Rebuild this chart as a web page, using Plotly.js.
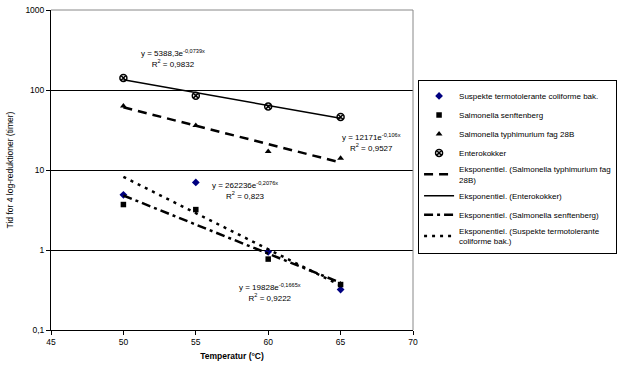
<!DOCTYPE html>
<html><head><meta charset="utf-8">
<script src="https://cdn.plot.ly/plotly-3.0.1.min.js"></script>
<style>body{margin:0;background:#fff}#c{width:620px;height:370px}</style>
</head><body><div id="c"></div>
<script>
const temps = [50, 55, 60, 65];
const suspekte = [4.9, 7.0, 0.95, 0.32];
const senftenberg = [3.7, 3.2, 0.77, 0.37];
const typhimurium = [63, 36, 17, 14];
const enterokokker = [141, 85, 62, 46];
const trendX = [50, 65];
const trendTyph = [60.8, 12.4];
const trendEntero = [134, 44.3];
const trendSenft = [4.8, 0.39];
const trendSusp = [8.2, 0.36];
const yTickVals = [0.1, 1, 10, 100, 1000];
const yTickText = ['0,1', '1', '10', '100', '1000'];
const names = ['Suspekte termotolerante coliforme bak.', 'Salmonella senftenberg', 'Salmonella typhimurium fag 28B', 'Enterokokker',
  'Eksponentiel. (Salmonella typhimurium fag<br>28B)', 'Eksponentiel. (Enterokokker)', 'Eksponentiel. (Salmonella senftenberg)', 'Eksponentiel. (Suspekte termotolerante<br>coliforme bak.)'];
const eqs = [
  {x: 53.43, y: 2.39, t: 'y = 5388,3e<sup>-0,0739x</sup><br>R<sup>2</sup> = 0,9832'},
  {x: 67.1, y: 1.34, t: 'y = 12171e<sup>-0,106x</sup><br>R<sup>2</sup> = 0,9527'},
  {x: 58.4, y: 0.75, t: 'y = 262236e<sup>-0,2076x</sup><br>R<sup>2</sup> = 0,823'},
  {x: 60.1, y: -0.53, t: 'y = 19828e<sup>-0,1665x</sup><br>R<sup>2</sup> = 0,9222'}
];
const F = 'Liberation Sans, Arial, sans-serif';
const traces = [
  {x: temps, y: suspekte, mode: 'markers', name: names[0], marker: {symbol: 'diamond', size: 6, color: '#000080'}},
  {x: temps, y: senftenberg, mode: 'markers', name: names[1], marker: {symbol: 'square', size: 5.5, color: 'black'}},
  {x: temps, y: typhimurium, mode: 'markers', name: names[2], marker: {symbol: 'triangle-up', size: 6, color: 'black'}},
  {x: temps, y: enterokokker, mode: 'markers', name: names[3], marker: {symbol: 'circle-x', size: 7, color: 'white', line: {color: 'black', width: 1.5}}},
  {x: trendX, y: trendTyph, mode: 'lines', name: names[4], line: {color: 'black', width: 2.5, dash: '9px,6px'}},
  {x: trendX, y: trendEntero, mode: 'lines', name: names[5], line: {color: 'black', width: 1.5}},
  {x: trendX, y: trendSenft, mode: 'lines', name: names[6], line: {color: 'black', width: 2.5, dash: '9px,4px,3px,4px'}},
  {x: trendX, y: trendSusp, mode: 'lines', name: names[7], line: {color: 'black', width: 2.5, dash: '3px,5px'}}
];
const layout = {
  width: 620, height: 370,
  margin: {l: 51, r: 207, t: 10, b: 40, autoexpand: false},
  paper_bgcolor: 'white', plot_bgcolor: 'white',
  font: {family: F, size: 8, color: 'black'},
  showlegend: true,
  legend: {x: 1.014, y: 0.78, xanchor: 'left', yanchor: 'top', bordercolor: 'black', borderwidth: 1, font: {family: F, size: 8}, itemwidth: 30, traceorder: 'normal', tracegroupgap: 0},
  xaxis: {range: [45, 70], dtick: 5, tick0: 45, showgrid: false, zeroline: false, showline: true, linecolor: 'black', linewidth: 1, ticks: 'outside', ticklen: 4, tickcolor: 'black',
    tickfont: {family: F, size: 8.5},
    title: {text: '<b>Temperatur (°C)</b>', font: {family: F, size: 8.5}, standoff: 6}},
  yaxis: {type: 'log', range: [-1, 3], tickvals: yTickVals, ticktext: yTickText, showgrid: true, gridcolor: 'black', gridwidth: 1, zeroline: false, showline: true, linecolor: 'black', linewidth: 1, ticks: 'outside', ticklen: 4, tickcolor: 'black',
    tickfont: {family: F, size: 8.5},
    title: {text: 'Tid for 4 log-reduktioner (timer)', font: {family: F, size: 8.5}, standoff: 10}},
  shapes: [
    {type: 'line', xref: 'paper', yref: 'paper', x0: 0, x1: 1, y0: 1, y1: 1, line: {color: '#888', width: 1}, layer: 'above'},
    {type: 'line', xref: 'paper', yref: 'paper', x0: 1, x1: 1, y0: 0, y1: 1, line: {color: '#888', width: 1}, layer: 'above'}
  ],
  annotations: eqs.map(e => ({x: e.x, y: e.y, xref: 'x', yref: 'y', text: e.t, showarrow: false, align: 'center', font: {family: F, size: 8}}))
};
Plotly.newPlot('c', traces, layout, {displayModeBar: false, staticPlot: true});
</script></body></html>
